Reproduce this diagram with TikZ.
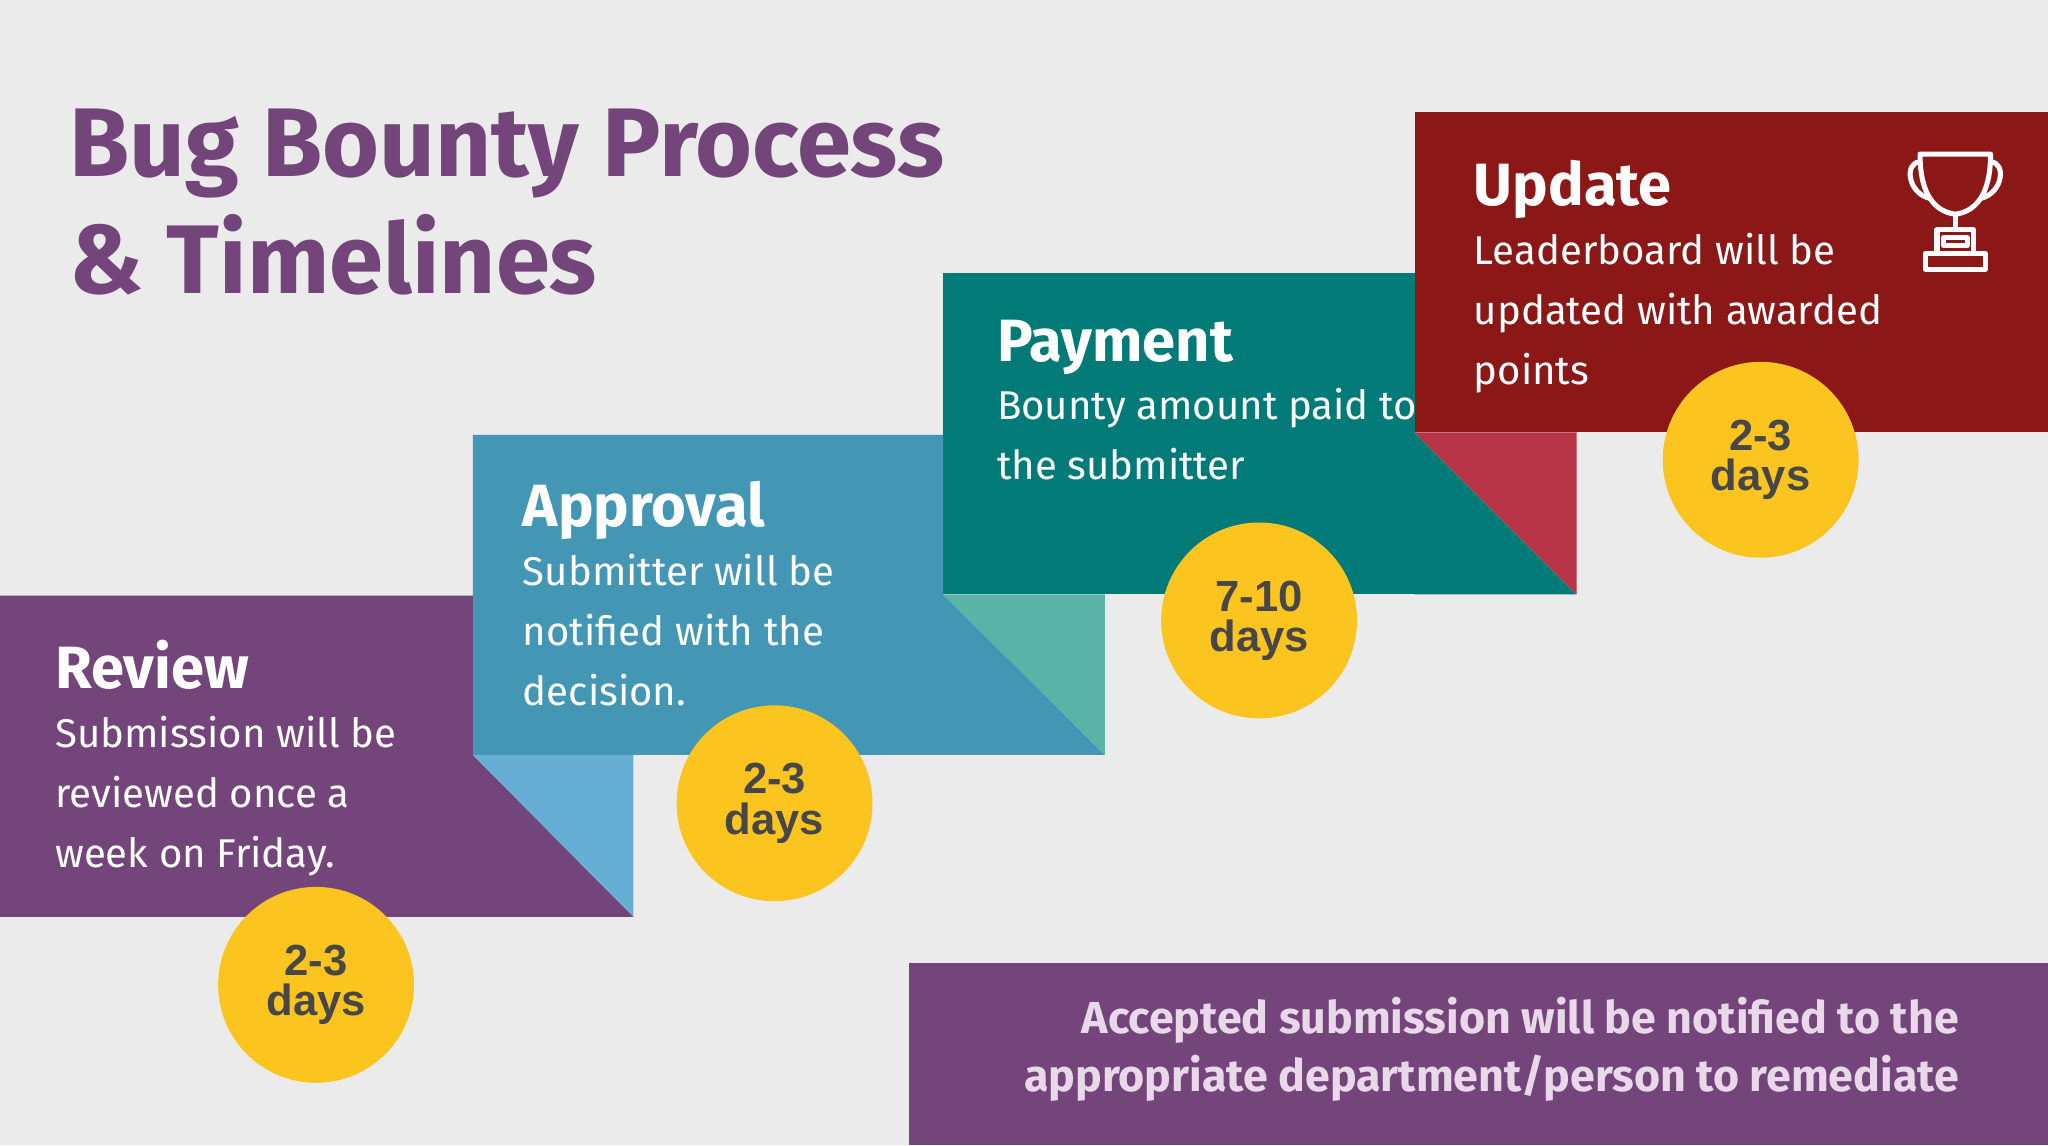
\documentclass[tikz,border=0pt]{standalone}
\usepackage{fontspec}
\setmainfont{Fira Sans}
\newfontfamily\headfont{Fira Sans}
\newfontfamily\daysfont{Liberation Sans}
\usetikzlibrary{positioning}
\definecolor{bgGray}{HTML}{EBEBEB}
\definecolor{plum}{HTML}{74457A}
\definecolor{skyBlue}{HTML}{4397B5}
\definecolor{skyFold}{HTML}{66AED3}
\definecolor{tealBox}{HTML}{027B78}
\definecolor{tealFold}{HTML}{5BB3A8}
\definecolor{wine}{HTML}{8B1717}
\definecolor{wineFold}{HTML}{B83547}
\definecolor{sun}{HTML}{FCC41F}
\definecolor{lavender}{HTML}{E8D8EA}
\tikzset{
  heading/.style={anchor=base west, text=white, inner sep=0pt, font=\headfont\bfseries\fontsize{26}{30}\selectfont},
  body/.style={anchor=base west, text=white, inner sep=0pt, align=left, font=\fontsize{17.5}{26}\selectfont},
  days/.style={circle, fill=sun, minimum size=3cm, inner sep=0pt, align=center, text=black!72, font=\daysfont\bfseries\fontsize{19}{17.5}\selectfont}
}
\begin{document}
\begin{tikzpicture}[x=0.02cm, y=-0.02cm]
    % background
    \fill[bgGray] (0,0) rectangle (1568,877);
    \useasboundingbox (0,0) rectangle (1568,877);
    % title
    \node[anchor=base west, inner sep=0pt, text=plum, align=left, font=\headfont\bfseries\fontsize{42.5}{51}\selectfont] (title) at (53,225) {Bug Bounty Process\\\& Timelines};
    % steps
    \fill[tealBox] (722,209) -- (1083,209) -- (1083,455) -- (722,455) -- cycle;
    \fill[tealBox] (1083,331) -- (1207,455) -- (1083,455) -- cycle;
    \fill[wineFold] (1083,331) -- (1207,331) -- (1207,455) -- cycle;
    \fill[wine] (1083,86) rectangle (1568,331);
    \fill[skyBlue] (362,333) -- (722,333) -- (722,455) -- (846,578) -- (362,578) -- cycle;
    \fill[tealFold] (722,455) -- (846,455) -- (846,578) -- cycle;
    \fill[plum] (0,456) -- (362,456) -- (362,578) -- (485,702) -- (0,702) -- cycle;
    \fill[skyFold] (362,578) -- (485,578) -- (485,702) -- cycle;
    % bottom note
    \fill[plum] (696,737) rectangle (1568,877);
    \node[anchor=base east, inner sep=0pt, text=lavender, align=right, font=\headfont\bfseries\fontsize{19.5}{25.5}\selectfont] (note) at (1500,836) {Accepted submission will be notified to the\\appropriate department/person to remediate};
    % texts
    \node[heading] (review) at (42,527) {Review};
    \node[body] (reviewText) at (42,664) {Submission will be\\reviewed once a\\week on Friday.};
    \node[heading] (approval) at (400,403) {Approval};
    \node[body] (approvalText) at (400,540) {Submitter will be\\notified with the\\decision.};
    \node[heading] (payment) at (763,277) {Payment};
    \node[body] (paymentText) at (763,367) {Bounty amount paid to\\the submitter};
    \node[heading] (update) at (1128,157) {Update};
    \node[body] (updateText) at (1128,294) {Leaderboard will be\\updated with awarded\\points};
    % durations
    \node[days] (reviewDays) at (242,754) {2-3\\days};
    \node[days] (approvalDays) at (593,615) {2-3\\days};
    \node[days] (paymentDays) at (964,475) {7-10\\days};
    \node[days] (updateDays) at (1348,352) {2-3\\days};
    % trophy
    \begin{scope}[draw=white, line width=2.2pt, line join=round]
        \draw (1470,118) -- (1524,118) .. controls (1524,150) and (1512,162) .. (1497,164) .. controls (1482,162) and (1470,150) .. (1470,118) -- cycle;
        \draw (1470,124) .. controls (1458,124) and (1460,148) .. (1478,152);
        \draw (1524,124) .. controls (1536,124) and (1534,148) .. (1516,152);
        \draw (1497,164) -- (1497,176);
        \draw (1483,176) rectangle (1511,194);
        \draw (1488,182) rectangle (1506,188);
        \draw (1474,194) rectangle (1520,206);
    \end{scope}
\end{tikzpicture}
\end{document}
